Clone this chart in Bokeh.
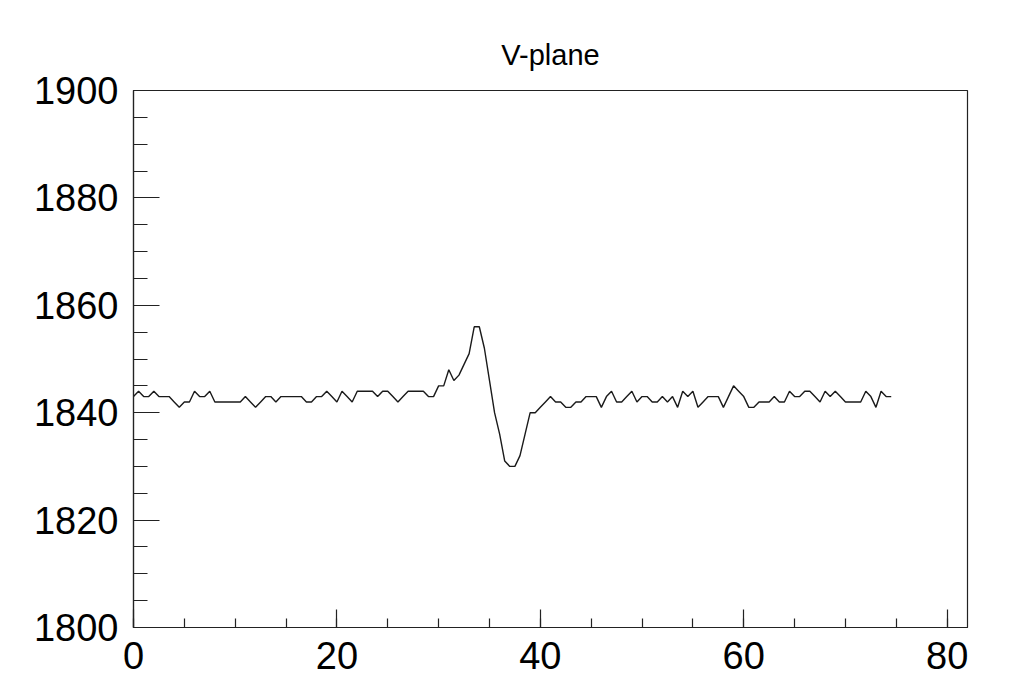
from bokeh.plotting import figure
from bokeh.models import Range1d, FixedTicker
from bokeh.embed import file_html
from bokeh.resources import INLINE

title_text = "V-plane"
x_step = 0.5
adc = [
    1843, 1844, 1843, 1843, 1844, 1843, 1843, 1843, 1842, 1841,
    1842, 1842, 1844, 1843, 1843, 1844, 1842, 1842, 1842, 1842,
    1842, 1842, 1843, 1842, 1841, 1842, 1843, 1843, 1842, 1843,
    1843, 1843, 1843, 1843, 1842, 1842, 1843, 1843, 1844, 1843,
    1842, 1844, 1843, 1842, 1844, 1844, 1844, 1844, 1843, 1844,
    1844, 1843, 1842, 1843, 1844, 1844, 1844, 1844, 1843, 1843,
    1845, 1845, 1848, 1846, 1847, 1849, 1851, 1856, 1856, 1852,
    1846, 1840, 1836, 1831, 1830, 1830, 1832, 1836, 1840, 1840,
    1841, 1842, 1843, 1842, 1842, 1841, 1841, 1842, 1842, 1843,
    1843, 1843, 1841, 1843, 1844, 1842, 1842, 1843, 1844, 1842,
    1843, 1843, 1842, 1842, 1843, 1842, 1843, 1841, 1844, 1843,
    1844, 1841, 1842, 1843, 1843, 1843, 1841, 1843, 1845, 1844,
    1843, 1841, 1841, 1842, 1842, 1842, 1843, 1842, 1842, 1844,
    1843, 1843, 1844, 1844, 1843, 1842, 1844, 1843, 1844, 1843,
    1842, 1842, 1842, 1842, 1844, 1843, 1841, 1844, 1843, 1843,
]
time = [i * x_step for i in range(len(adc))]

x_major = [0, 20, 40, 60, 80]
x_minor = [v for v in range(0, 85, 5)]
y_major = [1800, 1820, 1840, 1860, 1880, 1900]
y_minor = [v for v in range(1800, 1905, 5)]

FONT = "Liberation Sans"

p = figure(width=1016, height=692, output_backend="svg", toolbar_location=None,
           x_range=Range1d(0, 82), y_range=Range1d(1800, 1900),
           min_border_left=133, min_border_right=49, min_border_top=90, min_border_bottom=65)
p.background_fill_color = "white"
p.border_fill_color = "white"
p.outline_line_color = "#222222"
p.outline_line_width = 1.2
p.xgrid.visible = False
p.ygrid.visible = False

p.title.text = title_text
p.title.align = "center"
p.title.text_font = FONT
p.title.text_font_size = "29px"
p.title.text_font_style = "normal"
p.title.text_color = "black"
p.title.standoff = 39

p.line(time, adc, line_color="#1a1a1a", line_width=1.4)

for ax, maj, mnr, tin, tmin in ((p.xaxis[0], x_major, x_minor, 18, 9), (p.yaxis[0], y_major, y_minor, 26, 14)):
    ax.ticker = FixedTicker(ticks=maj, minor_ticks=mnr)
    ax.major_tick_in = tin
    ax.major_tick_out = 0
    ax.minor_tick_in = tmin
    ax.minor_tick_out = 0
    ax.axis_line_color = "#222222"
    ax.axis_line_width = 1.2
    ax.major_tick_line_color = "#222222"
    ax.minor_tick_line_color = "#222222"
    ax.major_tick_line_width = 1.2
    ax.minor_tick_line_width = 1.2
    ax.major_label_text_font = FONT
    ax.major_label_text_font_size = "38px"
    ax.major_label_text_color = "black"

p.yaxis.major_label_standoff = 15
p.xaxis.major_label_standoff = 14

open("out.html", "w").write(file_html(p, INLINE))
